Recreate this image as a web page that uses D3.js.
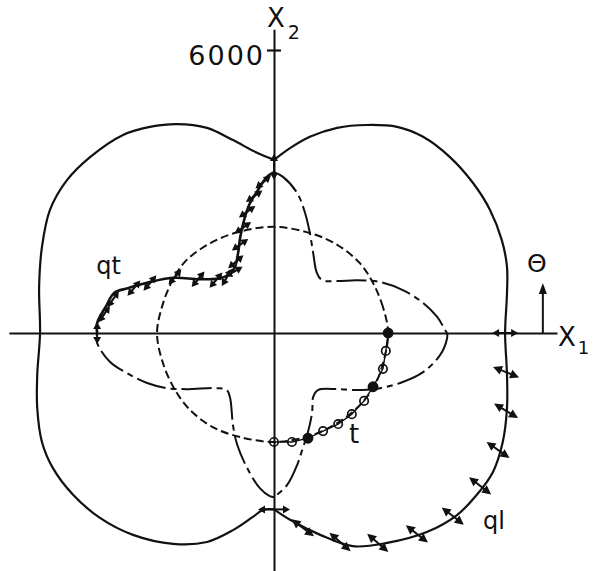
<!DOCTYPE html>
<html>
<head>
<meta charset="utf-8">
<script src="https://cdn.jsdelivr.net/npm/d3@7"></script>
<style>
  html, body { margin: 0; padding: 0; background: #fff; }
  svg { display: block; }
  text { font-family: "DejaVu Sans", sans-serif; fill: #111; }
</style>
</head>
<body>
<svg id="chart" width="593" height="571"></svg>
<script>
// Wave surfaces in the (x1, x2) plane, group velocity components in m/s.

// ql sheet, right half (top -> right -> bottom)
const qlRightX1 = [0, 340, 760, 1340, 1970, 2610, 3160, 3730, 4220, 4580, 4830, 4940, 4940, 4900, 4940, 4940, 4850, 4640, 4300, 3880, 3240, 2400, 1670, 980, 340, 0];
const qlRightX2 = [3670, 3920, 4160, 4350, 4410, 4370, 4160, 3730, 3180, 2610, 1970, 1400, 850, 0, -890, -1590, -2310, -2950, -3430, -3860, -4220, -4450, -4520, -4280, -3960, -3740];
// ql sheet, left half (top -> left -> bottom)
const qlLeftX1 = [0, -360, -870, -1420, -2060, -2630, -3200, -3900, -4390, -4750, -4920, -4980, -4960, -5020, -5020, -4920, -4690, -4260, -3690, -2990, -2140, -1420, -870, -450, -230, 0];
const qlLeftX2 = [3670, 3820, 4090, 4350, 4430, 4370, 4200, 3730, 3240, 2610, 1820, 980, 0, -890, -1590, -2310, -2860, -3430, -3920, -4280, -4470, -4430, -4180, -3900, -3750, -3740];

// pure transverse sheet t (closed)
const tX1 = [2420, 2310, 2100, 1820, 1340, 760, 0, -760, -1340, -1870, -2160, -2370, -2480, -2370, -2120, -1800, -1310, -740, 0, 760, 1340, 1820, 2140, 2330];
const tX2 = [0, 550, 1060, 1480, 1870, 2120, 2250, 2140, 1910, 1530, 1100, 570, 0, -590, -1170, -1610, -1990, -2200, -2310, -2180, -1910, -1530, -1100, -570];

// qt sheet, one branch per quadrant
const qtUpperRightX1 = [0, 190, 490, 660, 760, 830, 910, 1020, 1340, 1760, 2250, 2730, 3160, 3460, 3630, 3670];
const qtUpperRightX2 = [3410, 3310, 2970, 2540, 2120, 1700, 1270, 1120, 1100, 1120, 1080, 910, 640, 340, 60, 0];
const qtLowerRightX1 = [3670, 3670, 3520, 3160, 2730, 2250, 1760, 1340, 930, 830, 810, 720, 610, 490, 280, 0];
const qtLowerRightX2 = [0, -110, -470, -830, -1040, -1170, -1210, -1190, -1210, -1360, -1670, -2100, -2440, -2800, -3220, -3480];
const qtLowerLeftX1 = [0, -90, -300, -570, -780, -870, -930, -1000, -1210, -1840, -2270, -2690, -3120, -3480, -3750, -3750];
const qtLowerLeftX2 = [-3480, -3460, -3290, -2860, -2370, -1950, -1380, -1210, -1170, -1190, -1170, -1060, -850, -610, -210, 0];
const qtUpperLeftX1 = [-3750, -3750, -3560, -3390, -3100, -2710, -2140, -1570, -1100, -850, -760, -720, -640, -530, -340, -150, 0];
const qtUpperLeftX2 = [0, 210, 570, 850, 950, 1060, 1170, 1140, 1170, 1360, 1700, 2010, 2370, 2710, 3030, 3310, 3410];

// t points traced in the fourth quadrant (solid = intersection with another sheet)
const tPathX1 = [2420, 2370, 2310, 2100, 1910, 1650, 1360, 1040, 720, 380, 0];
const tPathX2 = [0, -380, -760, -1140, -1440, -1720, -1930, -2080, -2230, -2310, -2310];
const tPathKind = ["solid", "open", "open", "solid", "open", "open", "open", "open", "solid", "open", "open"];

// polarization arrows on ql (fourth quadrant): position and direction in degrees
const qlArrowX1 = [4920, 4920, 4750, 4370, 3790, 3030, 2200, 1400, 610];
const qlArrowX2 = [-830, -1650, -2480, -3240, -3880, -4260, -4450, -4430, -4130];
const qlArrowAngle = [-22, -31, -35, -38, -38, -38, -41, -41, -37];

// polarization arrows on qt (second quadrant)
const qtArrowX1 = [-3600, -3410, -2970, -2630, -2100, -1610, -1230, -1000, -850, -810, -720, -660, -570, -420, -230];
const qtArrowX2 = [400, 720, 950, 1060, 1190, 1140, 1120, 1180, 1300, 1510, 1870, 2230, 2570, 2900, 3200];
const qtArrowAngle = [55, 55, 50, 50, 50, 50, 50, 60, 30, 40, 35, 35, 35, 35, 40];

// polarization arrows where the sheets cross the axes
const axisArrowX1 = [4900, 0, 0, -3750];
const axisArrowX2 = [0, 3520, -3740, 0];
const axisArrowAngle = [0, 90, 0, 90];

// axis extents and tick
const x1Extent = [-5620, 6000];
const x2Extent = [-5050, 6440];
const x2Ticks = [6000];
const x2TickLabels = ["6000"];

// ---------------------------------------------------------------------------
const ox = 274, oy = 333, k = 283 / 6000;
const x = d3.scaleLinear().domain(x1Extent).range([ox + x1Extent[0] * k, ox + x1Extent[1] * k]);
const y = d3.scaleLinear().domain(x2Extent).range([oy - x2Extent[0] * k, oy - x2Extent[1] * k]);

const svg = d3.select("#chart");
const ink = "#111";

// axes
const gx = svg.append("g").attr("transform", `translate(0,${y(0)})`)
  .call(d3.axisBottom(x).tickValues([]).tickSizeOuter(0));
gx.select(".domain").attr("stroke", ink).attr("stroke-width", 2);

const gy = svg.append("g").attr("transform", `translate(${x(0)},0)`)
  .call(d3.axisLeft(y).tickValues(x2Ticks).tickSize(6).tickSizeOuter(0).tickPadding(5)
    .tickFormat((d, i) => x2TickLabels[i]));
gy.select(".domain").attr("stroke", ink).attr("stroke-width", 2);
gy.selectAll(".tick line").attr("stroke", ink).attr("stroke-width", 2.2).attr("x2", 7).attr("x1", -7);
gy.selectAll(".tick text")
  .attr("fill", ink)
  .attr("font-family", "DejaVu Sans, sans-serif")
  .attr("font-size", 27)
  .attr("letter-spacing", "2px")
  .attr("x", -9)
  .attr("dy", "0.52em");

// axis labels
const lx1 = svg.append("text").attr("x", 558).attr("y", 346).attr("font-size", 26).text("X");
lx1.append("tspan").attr("font-size", 18).attr("dx", 2).attr("dy", 8).text("1");
const lx2 = svg.append("text").attr("x", 267).attr("y", 27).attr("font-size", 26).text("X");
lx2.append("tspan").attr("font-size", 19).attr("dx", 3).attr("dy", 12).text("2");

// angle indicator
const thetaX = 5700;
svg.append("line")
  .attr("x1", x(thetaX)).attr("x2", x(thetaX))
  .attr("y1", y(0)).attr("y2", y(0) - 40)
  .attr("stroke", ink).attr("stroke-width", 2);
svg.append("path")
  .attr("d", `M${x(thetaX)},${y(0) - 50} l-4,11 l8,0 z`)
  .attr("fill", ink);
svg.append("text").attr("x", x(thetaX) - 6).attr("y", y(0) - 61)
  .attr("text-anchor", "middle").attr("font-size", 25).text("Θ");

// curve helpers
const line = d3.line().x(d => x(d[0])).y(d => y(d[1])).curve(d3.curveCatmullRom.alpha(0.5));
const zip = (a, b) => a.map((v, i) => [v, b[i]]);

function sheet(xs, ys, dash, width) {
  svg.append("path")
    .attr("d", line(zip(xs, ys)))
    .attr("fill", "none")
    .attr("stroke", ink)
    .attr("stroke-width", width)
    .attr("stroke-linejoin", "round")
    .attr("stroke-dasharray", dash);
}

// ql (solid)
sheet(qlRightX1, qlRightX2, null, 2.2);
sheet(qlLeftX1, qlLeftX2, null, 2.2);

// t (dashed, closed)
svg.append("path")
  .attr("d", d3.line().x(d => x(d[0])).y(d => y(d[1])).curve(d3.curveCatmullRomClosed.alpha(0.5))(zip(tX1, tX2)))
  .attr("fill", "none").attr("stroke", ink).attr("stroke-width", 2)
  .attr("stroke-dasharray", "8,4");

// qt (dash-dot, solid in the second quadrant)
sheet(qtUpperRightX1, qtUpperRightX2, "30,5,6,5", 2);
sheet(qtLowerRightX1, qtLowerRightX2, "30,5,6,5", 2);
sheet(qtLowerLeftX1, qtLowerLeftX2, "30,5,6,5", 2);
sheet(qtUpperLeftX1, qtUpperLeftX2, null, 2.6);

// double-headed polarization arrow
function dblArrow(cx, cy, ang, len, head, half, w) {
  const g = svg.append("g").attr("transform", `translate(${cx},${cy}) rotate(${-ang})`);
  const L = len / 2;
  g.append("line").attr("x1", -L + head * 0.6).attr("x2", L - head * 0.6)
    .attr("stroke", ink).attr("stroke-width", w);
  g.append("path").attr("d", `M${L},0 L${L - head},${-half} L${L - head},${half} Z`).attr("fill", ink);
  g.append("path").attr("d", `M${-L},0 L${-L + head},${-half} L${-L + head},${half} Z`).attr("fill", ink);
}

qlArrowX1.forEach((v, i) => dblArrow(x(v), y(qlArrowX2[i]), qlArrowAngle[i], 28, 9, 4.5, 2));
qtArrowX1.forEach((v, i) => dblArrow(x(v), y(qtArrowX2[i]), qtArrowAngle[i], 20, 7, 4, 2.2));
const axisArrowLen = [26, 26, 32, 22];
axisArrowX1.forEach((v, i) => dblArrow(x(v), y(axisArrowX2[i]), axisArrowAngle[i], axisArrowLen[i], 7, 4, 2));

// t points in the fourth quadrant
const tPts = zip(tPathX1, tPathX2);
svg.append("path")
  .attr("d", d3.line().x(d => x(d[0])).y(d => y(d[1]))(tPts))
  .attr("fill", "none").attr("stroke", ink).attr("stroke-width", 1.4);
svg.selectAll("circle.tp").data(tPts).join("circle")
  .attr("class", "tp")
  .attr("cx", d => x(d[0])).attr("cy", d => y(d[1]))
  .attr("r", (d, i) => tPathKind[i] === "solid" ? 4.6 : 4.2)
  .attr("fill", (d, i) => tPathKind[i] === "solid" ? ink : "#fff")
  .attr("fill-opacity", (d, i) => tPathKind[i] === "solid" ? 1 : 0)
  .attr("stroke", ink).attr("stroke-width", 1.7);

// sheet labels
svg.append("text").attr("x", x(-3770)).attr("y", y(1250)).attr("font-size", 24).text("qt");
svg.append("text").attr("x", x(4430)).attr("y", y(-4155)).attr("font-size", 24).text("ql");
svg.append("text").attr("x", x(1590)).attr("y", y(-2330)).attr("font-size", 26).text("t");
</script>
</body>
</html>
